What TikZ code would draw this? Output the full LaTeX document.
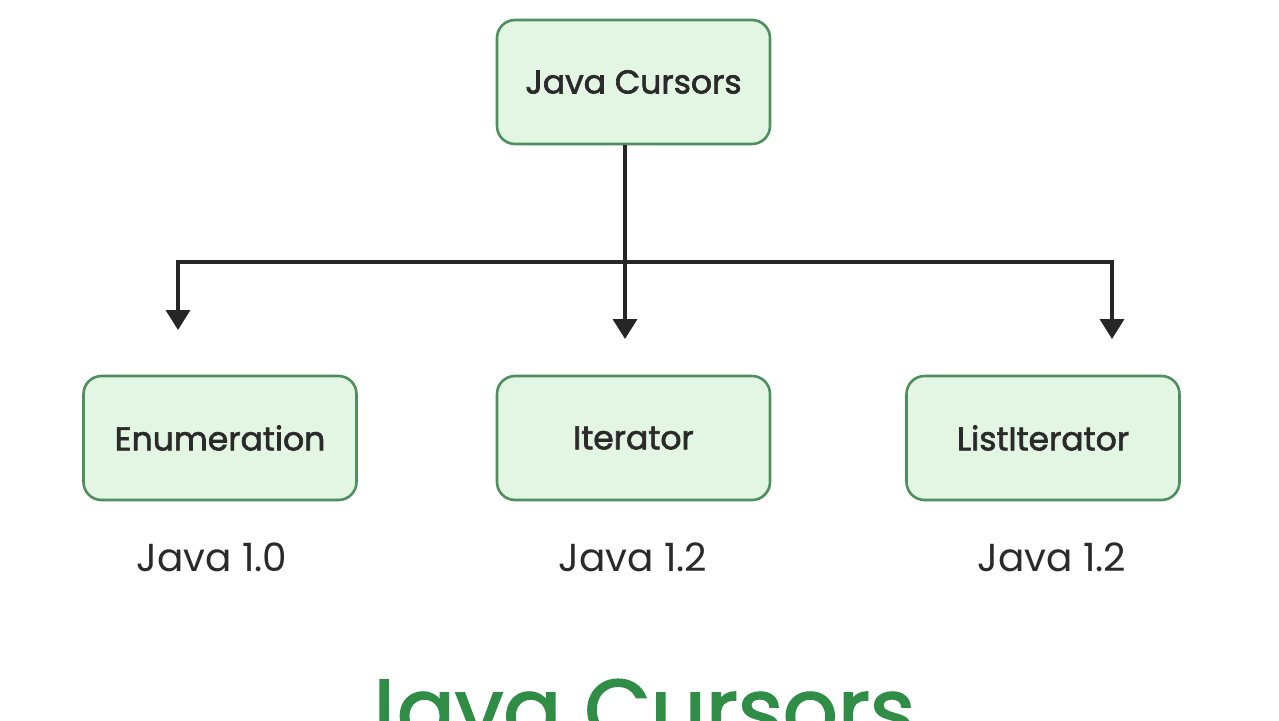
\documentclass[tikz,border=0pt]{standalone}
\usepackage{fontspec}
\setmainfont{Poppins}
\newfontfamily\medfont[FakeBold=2]{Poppins}
\definecolor{boxfill}{HTML}{E3F6E3}
\definecolor{boxline}{HTML}{4E8F5E}
\definecolor{txt}{HTML}{2A2A2A}
\definecolor{gfg}{HTML}{2F8D46}
\usetikzlibrary{arrows.meta}
\begin{document}
\begin{tikzpicture}[x=1pt,y=-1pt,
  box/.style={draw=boxline,line width=2.6pt,fill=boxfill,rounded corners=18pt,minimum width=273pt,minimum height=124pt,text=txt,font=\medfont\fontsize{33}{36}\selectfont},
  ver/.style={text=txt,font=\fontsize{39}{44}\selectfont},
  conn/.style={line width=3.6pt,draw=black!85,-{Triangle[length=20pt,width=24pt]}}]
\useasboundingbox[fill=white] (0,0) rectangle (1279,720);
\node[box] (root) at (633.5,82) {Java Cursors};
\node[box] (en) at (220,438) {Enumeration};
\node[box] (it) at (633.5,438) {Iterator};
\node[box] (li) at (1043,438) {ListIterator};
\coordinate (j) at (625,262);
\coordinate (jl) at (178,262);
\coordinate (jr) at (1112,262);
\coordinate (al) at (178,330);
\coordinate (am) at (625,339);
\coordinate (ar) at (1112,339);
\draw[line width=3.6pt,draw=black!85] (root.south -| j) -- (j);
\draw[line width=3.6pt,draw=black!85,line cap=rect] (jl) -- (jr);
\draw[conn] (jl) -- (al);
\draw[conn] (j) -- (am);
\draw[conn] (jr) -- (ar);
\node[ver] (v1) at (212,557) {Java 1.0};
\node[ver] (v2) at (633,557) {Java 1.2};
\node[ver] (v3) at (1052,557) {Java 1.2};
\node[text=gfg,font=\medfont\fontsize{86}{90}\selectfont,anchor=base] (title) at (633,740) {Java Cursors};
\end{tikzpicture}
\end{document}
